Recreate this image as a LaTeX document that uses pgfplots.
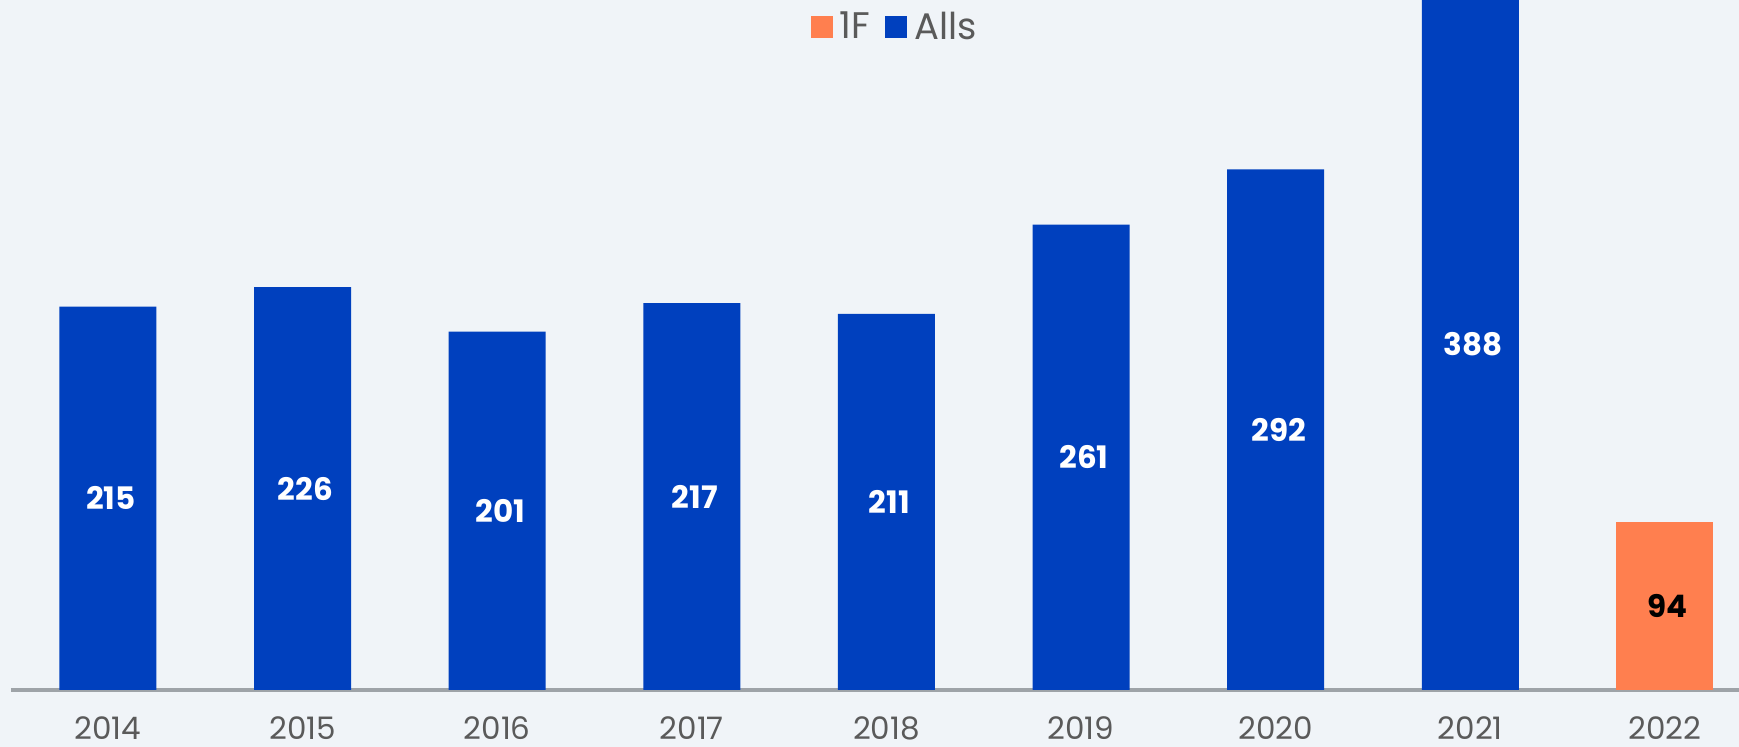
\documentclass[border=0pt]{standalone}
\usepackage{fontspec}
\setmainfont{Poppins}
\usepackage{pgfplots}
\usepackage{pgfplotstable}
\pgfplotsset{compat=1.18}
\definecolor{bgpanel}{HTML}{F0F4F8}
\definecolor{allsblue}{HTML}{0040BE}
\definecolor{onefcoral}{HTML}{FF7F4F}
\definecolor{axisgray}{HTML}{9EA3A8}
\definecolor{textgray}{HTML}{5A5A5A}

\pgfplotstableread{
x v
0 215
1 226
2 201
3 217
4 211
5 261
6 292
7 388
}\allsdata
\pgfplotstableread{
x v
8 94
}\onefdata

\begin{document}
\begin{tikzpicture}
\fill[bgpanel] (0,0) rectangle (869.5pt,373.5pt);
\begin{axis}[
    at={(5.5pt,28.5pt)},
    anchor=south west,
    scale only axis,
    width=864pt,
    height=345pt,
    xmin=-0.498, xmax=8.381,
    ymin=0, ymax=387,
    axis x line*=bottom,
    axis y line=none,
    x axis line style={draw=axisgray, line width=2pt, -},
    xtick={0,1,2,3,4,5,6,7,8},
    xticklabels={2014,2015,2016,2017,2018,2019,2020,2021,2022},
    xtick style={draw=none},
    xticklabel style={anchor=center, yshift=-19pt, font=\fontsize{15.5}{18}\selectfont, text=textgray},
    clip mode=individual,
    legend style={at={(0.512,0.961)}, anchor=center, draw=none, fill=none,
        font=\fontsize{18.5}{21}\selectfont, text=textgray,
        legend columns=-1,
        /tikz/every odd column/.append style={column sep=1.5pt},
        /tikz/every even column/.append style={column sep=5.5pt},
        inner sep=0pt},
    legend image code/.code={\fill[#1,draw=none] (0pt,-5.5pt) rectangle (11pt,5.5pt);},
]
\addplot[ybar, bar width=48.5pt, bar shift=0pt, fill=onefcoral, draw=none] table[x=x, y=v] {\onefdata};
\addlegendentry{1F}
\addplot[ybar, bar width=48.5pt, bar shift=0pt, fill=allsblue, draw=none] table[x=x, y=v] {\allsdata};
\addlegendentry{Alls}
% value labels in the middle of each bar
\addplot[only marks, mark=none, forget plot, nodes near coords, point meta=explicit symbolic,
    every node near coord/.style={anchor=center, xshift=1.5pt, text=white, font=\bfseries\fontsize{15.5}{18}\selectfont}]
    table[x=x, y expr=\thisrow{v}/2, meta=v] {\allsdata};
\addplot[only marks, mark=none, forget plot, nodes near coords, point meta=explicit symbolic,
    every node near coord/.style={anchor=center, xshift=1.5pt, text=black, font=\bfseries\fontsize{15.5}{18}\selectfont}]
    table[x=x, y expr=\thisrow{v}/2, meta=v] {\onefdata};
\end{axis}
\pgfresetboundingbox
\path[use as bounding box] (0,0) rectangle (869.5pt,373.5pt);
\end{tikzpicture}
\end{document}
